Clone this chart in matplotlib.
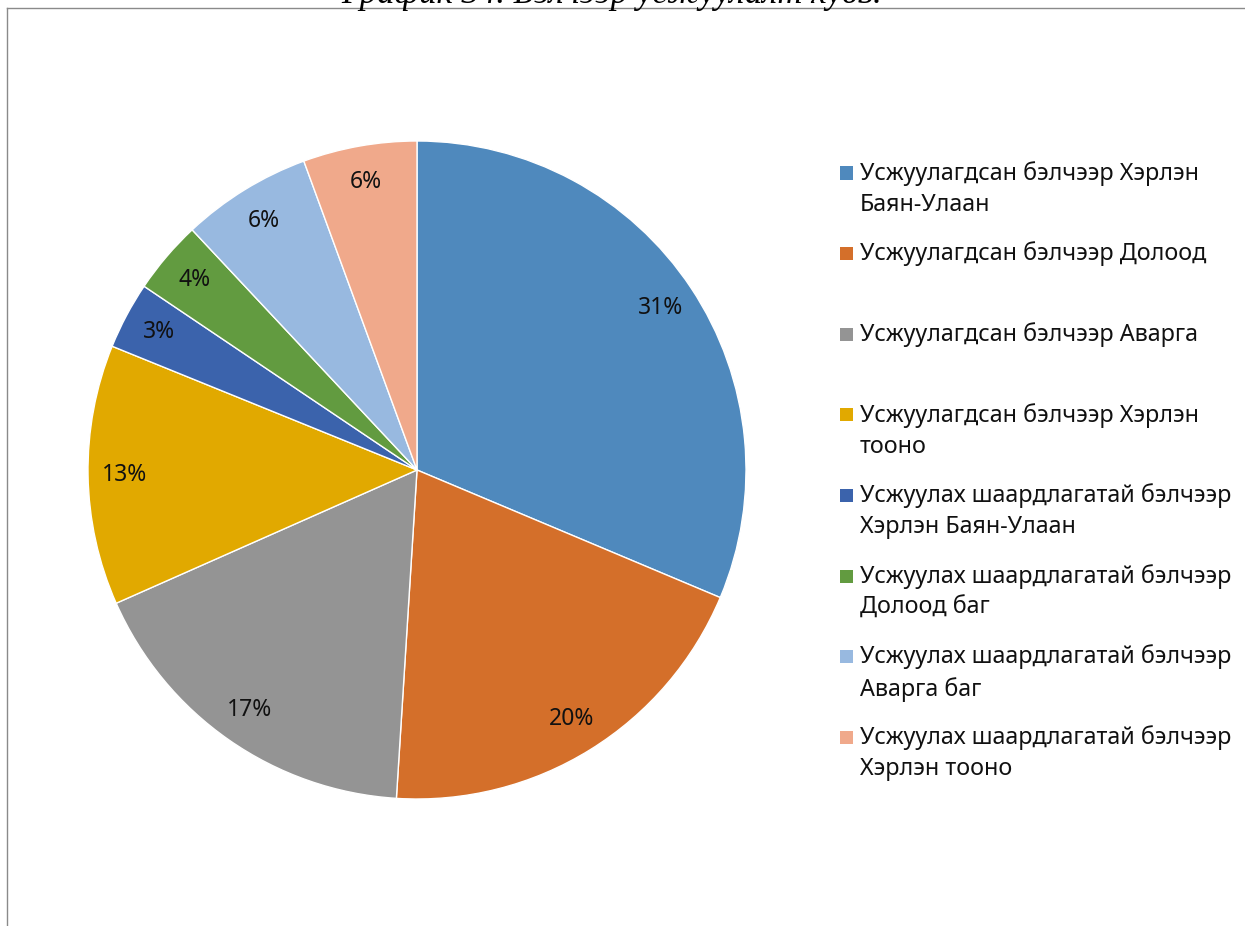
import textwrap
import matplotlib
matplotlib.use("Agg")
import matplotlib.pyplot as plt
from matplotlib.lines import Line2D
from matplotlib.patches import Rectangle

# =========================
# data
# =========================
categories = [
    "Усжуулагдсан бэлчээр Хэрлэн Баян-Улаан",
    "Усжуулагдсан бэлчээр Долоод",
    "Усжуулагдсан бэлчээр Аварга",
    "Усжуулагдсан бэлчээр Хэрлэн тооно",
    "Усжуулах шаардлагатай бэлчээр Хэрлэн Баян-Улаан",
    "Усжуулах шаардлагатай бэлчээр Долоод баг",
    "Усжуулах шаардлагатай бэлчээр Аварга баг",
    "Усжуулах шаардлагатай бэлчээр Хэрлэн тооно",
]
shares = [31.4, 19.7, 17.4, 12.8, 3.3, 3.6, 6.4, 5.6]
colors = ["#4F89BD", "#D46F2A", "#949494", "#E1A900",
          "#3B63AC", "#629B40", "#98B9E0", "#F0A98B"]

title = "График 34. Бэлчээр усжуулалт хувь."

W, H = 1245, 926
fig = plt.figure(figsize=(W / 100, H / 100), dpi=100)
font = ["Noto Sans", "DejaVu Sans"]

# chart area border (only top and left edges fall inside the canvas)
fig.add_artist(Line2D([7 / W, 1.0], [1 - 8 / H, 1 - 8 / H], color="#8a8a8a", lw=1.0))
fig.add_artist(Line2D([7 / W, 7 / W], [0.0, 1 - 8 / H], color="#8a8a8a", lw=1.0))

# caption sits above the chart area, mostly outside the canvas
fig.text(612 / W, 1 - 3 / H, title, ha="center", va="baseline",
         family=["Liberation Serif", "DejaVu Serif"], style="italic", fontsize=25)

# =========================
# pie
# =========================
cx, cy, r = 417, 470, 329
ax = fig.add_axes([(cx - r) / W, (H - cy - r) / H, 2 * r / W, 2 * r / H])
wedges, texts, autotexts = ax.pie(
    shares,
    colors=colors,
    startangle=90,
    counterclock=False,
    autopct="%.0f%%",
    pctdistance=0.89,
    wedgeprops=dict(edgecolor="white", linewidth=1.0),
    textprops=dict(family=font, fontsize=16.5, color="#111111"),
)
ax.set_xlim(-1, 1)
ax.set_ylim(-1, 1)
ax.set_aspect("equal")
ax.axis("off")

# =========================
# legend
# =========================
y0, step = 173, 80.6
for i, (name, col) in enumerate(zip(categories, colors)):
    y = y0 + i * step
    fig.add_artist(Rectangle((840 / W, 1 - (y + 6.5) / H), 13 / W, 13 / H,
                             facecolor=col, edgecolor="none"))
    fig.text(860 / W, 1 - (y - 12) / H, "\n".join(textwrap.wrap(name, 29)),
             ha="left", va="top", family=font, fontsize=16.8,
             color="#111111", linespacing=1.4)

fig.savefig("out.png", dpi=100)
